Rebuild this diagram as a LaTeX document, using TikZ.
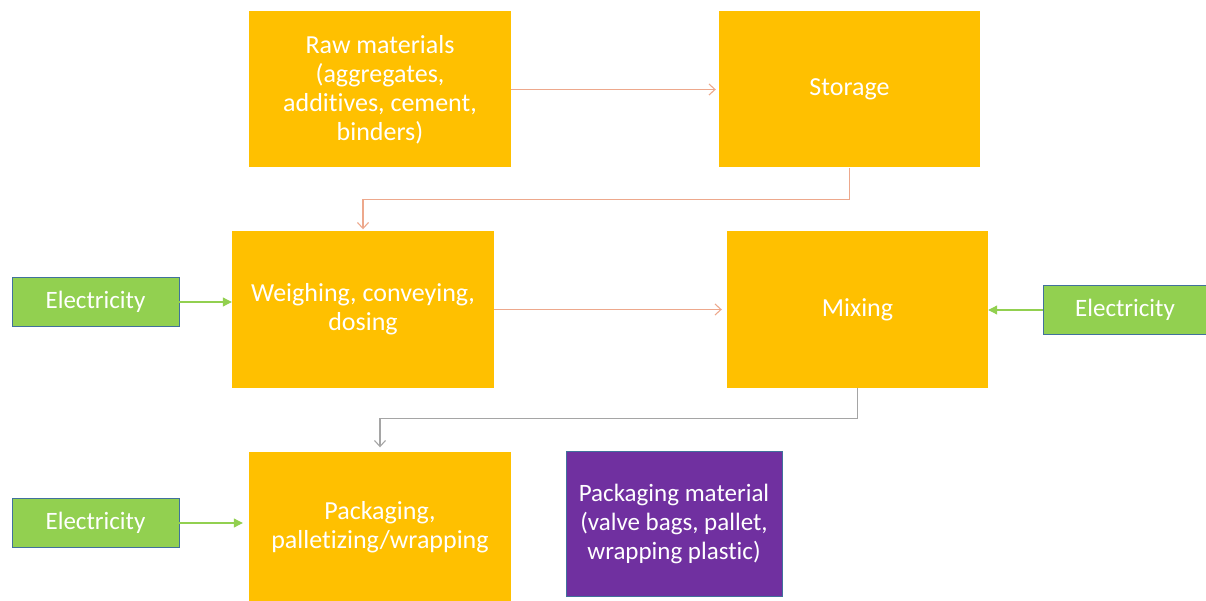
\documentclass[tikz,border=0pt]{standalone}
\usepackage{fontspec}
\setmainfont[Ligatures=CommonOff]{Carlito}
\usetikzlibrary{arrows.meta}
\definecolor{orng}{HTML}{FFC000}
\definecolor{grn}{HTML}{92D050}
\definecolor{purp}{HTML}{7030A0}
\definecolor{bord}{HTML}{41719C}
\definecolor{salm}{HTML}{EDA88C}
\definecolor{grayarr}{HTML}{A5A5A5}
\tikzset{
  procbox/.style={fill=orng, draw=none, text=white, align=center, inner sep=0pt,
    font=\fontsize{26}{29}\selectfont},
  elecbox/.style={fill=grn, draw=bord, line width=0.9pt, text=white, align=center, inner sep=0pt,
    minimum width=167pt, minimum height=49pt, font=\fontsize{25}{29}\selectfont},
  matbox/.style={fill=purp, draw=bord, line width=0.8pt, text=white, align=center, inner sep=0pt,
    font=\fontsize{25}{29}\selectfont},
  flow/.style={draw=salm, line width=1.1pt, -{Straight Barb[length=6pt,width=11pt]}},
  flowgray/.style={draw=grayarr, line width=1.1pt, -{Straight Barb[length=6pt,width=11pt]}},
  elecarr/.style={draw=grn, line width=1.1pt, -{Triangle[length=9pt,width=9pt]}}
}
\begin{document}
\begin{tikzpicture}[x=1pt,y=-1pt]
\useasboundingbox (0,0) rectangle (1206,601);
\node[procbox, minimum width=262pt, minimum height=156pt] (raw) at (380,89.5)
  {Raw materials\\(aggregates,\\additives, cement,\\binders)};
\node[procbox, minimum width=261pt, minimum height=156pt] (storage) at (849.5,89.5) {Storage};
\node[procbox, minimum width=262pt, minimum height=156pt] (weigh) at (363,309.5)
  {Weighing, conveying,\\dosing};
\node[procbox, minimum width=262pt, minimum height=151pt] (pack) at (380,527)
  {Packaging,\\palletizing/wrapping};
\node[procbox, minimum width=261pt, minimum height=156pt] (mix) at (857.5,309.5) {Mixing};
\node[matbox, minimum width=216pt, minimum height=145pt] (mat) at (674,523.5)
  {Packaging material\\(valve bags, pallet,\\wrapping plastic)};
\node[elecbox] (e1) at (95.5,302) {Electricity};
\node[elecbox] (e2) at (95.5,523) {Electricity};
\node[elecbox, minimum width=164pt] (er) at (1125,310) {Electricity};

\draw[flow, shorten >=3pt] (raw.east) -- (raw.east -| storage.west);
\draw[flow, shorten >=2pt] (storage.south) -- ++(0,32) -| (weigh.north);
\draw[flow, shorten >=5pt] (weigh.east) -- (weigh.east -| mix.west);
\draw[flowgray, shorten >=4pt] (mix.south) -- ++(0,31) -| (pack.north);
\draw[elecarr] (e1.east) -- (e1.east -| weigh.west);
\draw[elecarr] (er.west) -- (er.west -| mix.east);
\draw[elecarr, shorten >=6pt] (e2.east) -- (e2.east -| pack.west);
\end{tikzpicture}
\end{document}
